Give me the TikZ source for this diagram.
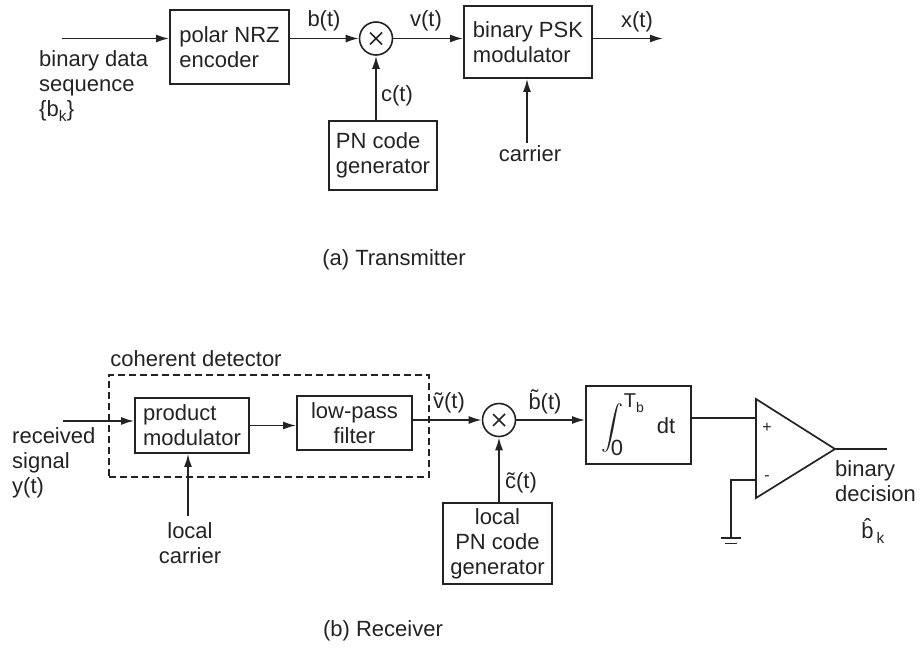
\documentclass[tikz,border=0pt]{standalone}
\usepackage{fontspec}
\usepackage{unicode-math}
\setmainfont{Liberation Sans}
\setmathfont{Latin Modern Math}
\usetikzlibrary{arrows.meta,calc}
\definecolor{ink}{RGB}{35,35,35}
\begin{document}
\begin{tikzpicture}[x=1pt,y=-1pt,
  every node/.style={font=\fontsize{22}{25}\selectfont, text=ink},
  blk/.style={draw=ink, line width=1.9pt, inner sep=0pt},
  mix/.style={draw=ink, line width=1.6pt, circle, minimum size=33pt, inner sep=0pt},
  lbl/.style={inner sep=0pt},
  sig/.style={draw=ink, line width=1.7pt, -{Latex[length=13pt,width=8pt]}},
  wire/.style={draw=ink, line width=1.7pt},
  dbox/.style={draw=ink, line width=1.6pt, dash pattern=on 7pt off 4pt, inner sep=0pt},
]
\useasboundingbox (0,0) rectangle (921,650);

% ---------------- Transmitter ----------------
\node[blk, minimum width=119pt, minimum height=74pt, align=left] (enc) at (229.5,47) {polar NRZ\\encoder};
\node[mix] (m1) at (376,38.5) {};
\draw[wire] ($(m1)+(-6,-6)$) -- ($(m1)+(6,6)$) ($(m1)+(-6,6)$) -- ($(m1)+(6,-6)$);
\node[blk, minimum width=128pt, minimum height=72pt, align=left] (psk) at (528,42) {binary PSK\\modulator};
\node[blk, minimum width=108pt, minimum height=69pt, align=left] (pn) at (383,155.5) {PN code\\generator};

\coordinate (tin) at (62,38.5);
\coordinate (xout) at (663,38.5);
\coordinate (car) at (527,143);

\draw[sig] (tin) -- (tin -| enc.west);
\draw[sig] (enc.east |- m1) -- (m1.west);
\draw[sig] (m1.east) -- (m1 -| psk.west);
\draw[sig] (psk.east |- xout) -- (xout);
\draw[sig] (car) -- (car |- psk.south);
\draw[sig] (pn.north -| m1) -- (m1.south);

\node[lbl, anchor=west, align=left] (bdata) at (39,86) {binary data\\sequence\\\{b\textsubscript{k}\}};
\node[lbl] (lb) at (324,21) {b(t)};
\node[lbl] (lv) at (426,21) {v(t)};
\node[lbl] (lx) at (637,22) {x(t)};
\node[lbl] (lc) at (397,96) {c(t)};
\node[lbl, anchor=north] (lcar) at (530,145) {carrier};
\node[lbl] (ta) at (394,260) {(a) Transmitter};

% ---------------- Receiver ----------------
\node[dbox, minimum width=320pt, minimum height=102pt] (cd) at (269,426) {};
\node[lbl] (lcd) at (196,359) {coherent detector};
\node[blk, minimum width=114pt, minimum height=55pt, align=left] (prod) at (192,425.5) {product\\modulator};
\node[blk, minimum width=115pt, minimum height=54pt, align=center] (lpf) at (354.5,423) {low-pass\\filter};
\node[mix] (m2) at (499,420) {};
\draw[wire] ($(m2)+(-6,-6)$) -- ($(m2)+(6,6)$) ($(m2)+(-6,6)$) -- ($(m2)+(6,-6)$);
\node[blk, minimum width=105pt, minimum height=78pt] (int) at (638.5,425)
  {$\displaystyle\int_{\mbox{0}}^{\mbox{\fontsize{20}{21}\selectfont T\textsubscript{b}}}$\hspace{12pt}dt};
\node[blk, minimum width=109pt, minimum height=81pt, align=center] (lpn) at (497.5,543.5) {local\\PN code\\generator};

\coordinate (rin) at (63,421);
\coordinate (lcin) at (188,516);
\coordinate (opP) at (756,418);
\coordinate (opM) at (756,480);
\coordinate (opO) at (835,449);
\coordinate (out) at (887,449);
\coordinate (gnd) at (731,538);

\draw[sig] (rin) -- (rin -| prod.west);
\draw[sig] (prod.east) -- (lpf.west |- prod.east);
\draw[sig] (lcin) -- (lcin |- prod.south);
\draw[sig] (lpf.east |- m2) -- (m2.west);
\draw[sig] (m2.east) -- (m2 -| int.west);
\draw[sig] (lpn.north -| m2) -- (m2.south);

% comparator
\draw[wire] (756,399) -- (opO) -- (756,498) -- cycle;
\draw[wire] (int.east |- opP) -- (opP);
\draw[wire] (opM) -| (gnd);
\draw[wire] ($(gnd)+(-10,0)$) -- ($(gnd)+(10,0)$);
\draw[wire] ($(gnd)+(-6,5.5)$) -- ($(gnd)+(6,5.5)$);
\draw[wire] (opO) -- (out);
\node[lbl, font=\fontsize{16}{18}\selectfont] (plus) at (767,428) {+};
\node[lbl, font=\fontsize{16}{18}\selectfont] (minus) at (767,478) {-};

\node[lbl, anchor=west, align=left] (ly) at (12,463) {received\\signal\\y(t)};
\node[lbl, anchor=north, align=center] (llc) at (190,522) {local\\carrier};
\node[lbl] (lvt) at (449,403) {\~{v}(t)};
\node[lbl] (lbt) at (545,402) {\~{b}(t)};
\node[lbl] (lct) at (521,483) {\~{c}(t)};
\node[lbl, anchor=north west, align=left] (ldec) at (835,460) {binary\\decision};
\node[lbl] (lbk) at (873,531) {\^{b}\kern3pt\textsubscript{k}};
\node[lbl] (tb) at (383,631) {(b) Receiver};
\end{tikzpicture}
\end{document}
